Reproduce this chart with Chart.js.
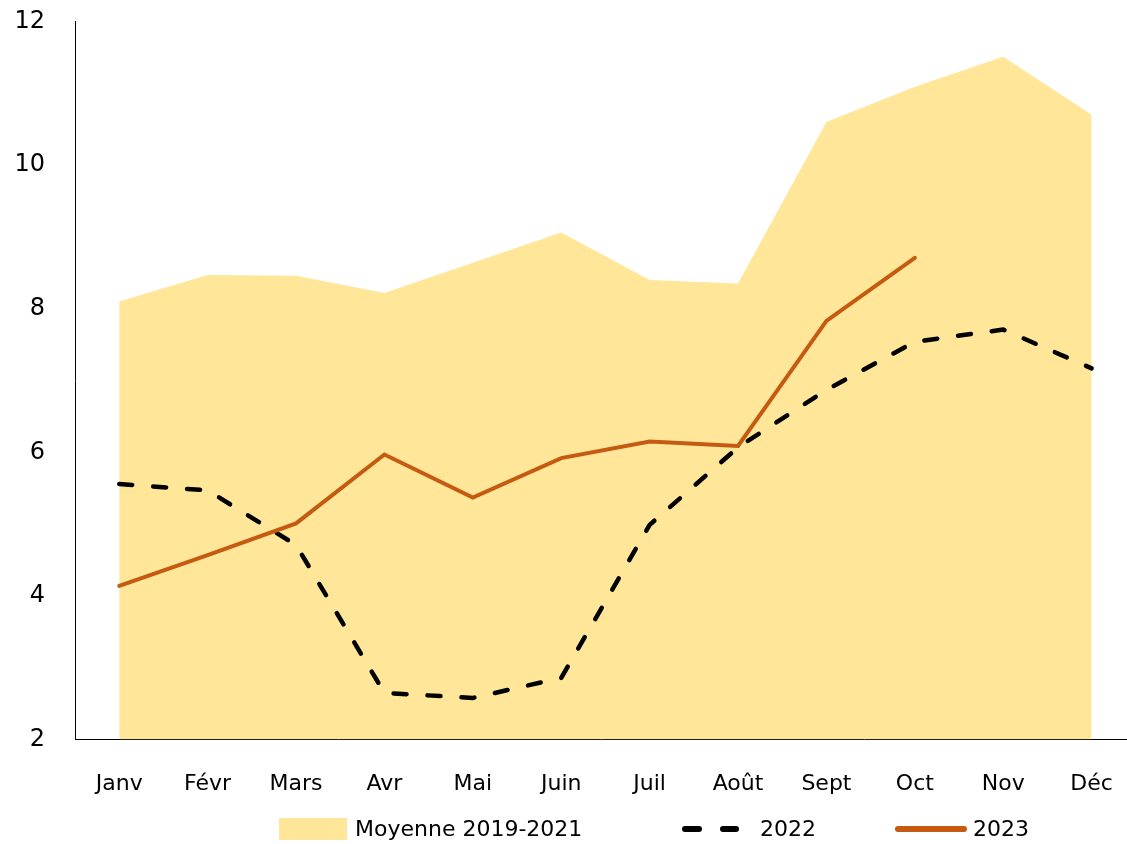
<!DOCTYPE html>
<html lang="fr">
<head>
<meta charset="utf-8">
<title>Moyenne 2019-2021, 2022, 2023</title>
<script src="https://cdn.jsdelivr.net/npm/chart.js@4.4.1/dist/chart.umd.min.js"></script>
<style>
    html, body {
        margin: 0;
        padding: 0;
        background: #fff;
    }
    .wrap {
        position: relative;
        width: 1127px;
        height: 844px;
    }
    .legend {
        position: absolute;
        left: 279px;
        top: 817px;
        display: flex;
        align-items: center;
        font-family: "DejaVu Sans", sans-serif;
        font-size: 22px;
        line-height: 24px;
        color: #000;
        white-space: nowrap;
    }
    .legend__item {
        display: flex;
        align-items: center;
    }
    .legend__item svg {
        display: block;
    }
</style>
</head>
<body>
<div class="wrap">
    <canvas id="chart"></canvas>
    <div class="legend"></div>
</div>
<script>
'use strict'

const months = ['Janv', 'Févr', 'Mars', 'Avr', 'Mai', 'Juin', 'Juil', 'Août', 'Sept', 'Oct', 'Nov', 'Déc'];
const yTicks = [2, 4, 6, 8, 10, 12];

const avgLabel = 'Moyenne 2019-2021';
const avgValues = [8.10, 8.47, 8.46, 8.22, 8.64, 9.06, 8.40, 8.35, 10.60, 11.09, 11.51, 10.70];

const label2022 = '2022';
const values2022 = [5.56, 5.47, 4.71, 2.65, 2.58, 2.86, 4.99, 6.07, 6.87, 7.54, 7.71, 7.17];

const label2023 = '2023';
const values2023 = [4.14, 4.57, 5.01, 5.97, 5.37, 5.92, 6.15, 6.09, 7.83, 8.71];

document.addEventListener('DOMContentLoaded', () => {
    const font = '"DejaVu Sans", sans-serif';

    // les mois sont placés sur un axe linéaire pour garder la demi-case à gauche
    const toPoints = (values) => values.map((v, i) => ({x: i, y: v}));

    const data = {
        datasets: [
            {
                label: avgLabel,
                data: toPoints(avgValues),
                fill: 'start',
                backgroundColor: '#FFE699',
                borderColor: '#FFE699',
                borderWidth: 0,
                pointRadius: 0,
                tension: 0,
                order: 3
            },
            {
                label: label2022,
                data: toPoints(values2022),
                fill: false,
                borderColor: '#000000',
                borderWidth: 4.5,
                borderDash: [13, 21],
                borderCapStyle: 'round',
                borderJoinStyle: 'round',
                pointRadius: 0,
                tension: 0,
                order: 2
            },
            {
                label: label2023,
                data: toPoints(values2023),
                fill: false,
                borderColor: '#C55A11',
                borderWidth: 4,
                borderCapStyle: 'round',
                pointRadius: 0,
                tension: 0,
                order: 1
            }
        ]
    };

    // les tirets de graduation sont transparents : ils servent seulement d'écart entre axe et libellés
    const hiddenTicks = (len) => ({
        display: true,
        drawOnChartArea: false,
        drawTicks: true,
        tickLength: len,
        color: 'transparent',
        tickColor: 'transparent'
    });

    const chart = new Chart(document.getElementById('chart'), {
        type: 'line',
        data: data,
        options: {
            responsive: true,
            maintainAspectRatio: false,
            animation: false,
            layout: {
                padding: {top: 21.5, left: 10.5, right: 0, bottom: 44}
            },
            scales: {
                x: {
                    type: 'linear',
                    min: -0.5,
                    max: 11.4,
                    afterBuildTicks: (scale) => {
                        scale.ticks = months.map((m, i) => ({value: i}));
                    },
                    grid: hiddenTicks(28),
                    border: {display: true, color: '#000', width: 1},
                    ticks: {
                        autoSkip: false,
                        maxRotation: 0,
                        padding: 3,
                        color: '#000',
                        font: {family: font, size: 22},
                        callback: (value) => months[value]
                    }
                },
                y: {
                    min: 2,
                    max: 12,
                    afterBuildTicks: (scale) => {
                        scale.ticks = yTicks.map((v) => ({value: v}));
                    },
                    grid: hiddenTicks(26),
                    border: {display: true, color: '#000', width: 1},
                    ticks: {
                        padding: 4,
                        color: '#000',
                        font: {family: font, size: 24}
                    }
                }
            },
            plugins: {
                legend: {display: false},
                tooltip: {enabled: false}
            }
        }
    });

    // légende en HTML, construite à partir des séries du graphique
    const legendWidths = [403, 213, null];
    const legend = document.querySelector('.legend');

    chart.data.datasets.forEach((ds, i) => {
        let item = document.createElement('div');
        item.classList.add('legend__item');
        if (legendWidths[i]) {
            item.style.width = legendWidths[i] + 'px';
        };

        let mark;
        if (ds.fill) {
            mark = `<svg width="68" height="22"><rect x="0" y="0" width="68" height="22" fill="${ds.backgroundColor}"/></svg>`;
        } else if (ds.borderDash) {
            mark = `<svg width="57" height="10"><line x1="3" y1="5" x2="54" y2="5" stroke="${ds.borderColor}" stroke-width="6" stroke-linecap="round" stroke-dasharray="14 24"/></svg>`;
        } else {
            mark = `<svg width="72" height="10"><line x1="3" y1="5" x2="69" y2="5" stroke="${ds.borderColor}" stroke-width="6" stroke-linecap="round"/></svg>`;
        };

        let gap = ds.fill ? 8 : (ds.borderDash ? 21 : 6);
        item.innerHTML = mark + `<span style="margin-left:${gap}px">${ds.label}</span>`;
        legend.append(item);
    });
});
</script>
</body>
</html>
